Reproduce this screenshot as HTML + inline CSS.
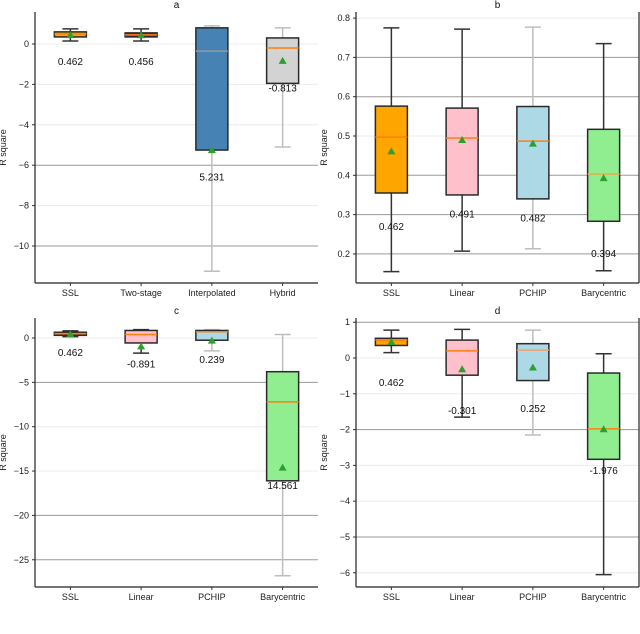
<!DOCTYPE html>
<html><head><meta charset="utf-8"><style>
html,body{margin:0;padding:0;background:#fff;}
svg{display:block;font-family:"Liberation Sans","DejaVu Sans",sans-serif;}
</style></head><body>
<svg id="fig" width="640" height="634" viewBox="0 0 640 634" xmlns="http://www.w3.org/2000/svg"></svg>
<script>
// ---- Data ----
const catsA = ["SSL","Two-stage","Interpolated","Hybrid"];
const catsB = ["SSL","Linear","PCHIP","Barycentric"];
// [whiskerLow, Q1, median, Q3, whiskerHigh]
const boxesA = [[0.15,0.35,0.5,0.6,0.75],[0.15,0.35,0.45,0.55,0.75],[-11.25,-5.25,-0.35,0.8,0.9],[-5.1,-1.95,-0.2,0.3,0.8]];
const meansA = [0.462,0.456,-5.231,-0.813];
const labelsA = ["0.462","0.456","5.231","-0.813"];
const labelPosA = [-0.9,-0.9,-6.6,-2.2];
const ticksA = [0,-2,-4,-6,-8,-10];
const boxesB = [[0.155,0.355,0.497,0.576,0.775],[0.207,0.35,0.495,0.571,0.772],[0.213,0.34,0.487,0.575,0.777],[0.157,0.283,0.403,0.517,0.735]];
const meansB = [0.462,0.491,0.482,0.394];
const labelsB = ["0.462","0.491","0.482","0.394"];
const labelPosB = [0.268,0.30,0.29,0.2];
const ticksB = [0.2,0.3,0.4,0.5,0.6,0.7,0.8];
const boxesC = [[0.15,0.3,0.5,0.65,0.8],[-1.7,-0.56,0.4,0.85,0.95],[-1.45,-0.25,0.7,0.85,0.95],[-26.8,-16.1,-7.2,-3.8,0.4]];
const meansC = [0.462,-0.891,-0.239,-14.561];
const labelsC = ["0.462","-0.891","0.239","14.561"];
const labelPosC = [-1.7,-3.0,-2.5,-16.7];
const ticksC = [0,-5,-10,-15,-20,-25];
const boxesD = [[0.15,0.35,0.5,0.55,0.78],[-1.65,-0.48,0.2,0.5,0.8],[-2.15,-0.63,0.22,0.4,0.78],[-6.05,-2.83,-1.98,-0.42,0.12]];
const meansD = [0.462,-0.301,-0.252,-1.976];
const labelsD = ["0.462","-0.301","0.252","-1.976"];
const labelPosD = [-0.7,-1.48,-1.42,-3.15];
const ticksD = [1,0,-1,-2,-3,-4,-5,-6];

const NS="http://www.w3.org/2000/svg";
const svg=document.getElementById('fig');
function mk(tag,attrs,parent){const e=document.createElementNS(NS,tag);for(const k in attrs)e.setAttribute(k,attrs[k]);(parent||svg).appendChild(e);return e;}

function panel(o){
  const g=mk('g',{});
  
  
  const y=v=>o.py0+(o.v0-v)*o.scale;
  const x=i=>o.left+(i+0.5)*(o.right-o.left)/4;
  // grid
  o.ticks.forEach(t=>{
    const dark=o.dark.includes(t);
    const ln=mk('line',{x1:o.left,x2:o.right,y1:y(t),y2:y(t),stroke:dark?'#9a9a9a':'#ececec','stroke-width':1},g);
    
    
    const tl=mk('text',{x:o.left-6,y:y(t)+3,'text-anchor':'end','font-size':9,fill:'#222'},g);
    tl.textContent=String(t).replace('-','\u2212');
    
    
    mk('line',{x1:o.left-3,x2:o.left,y1:y(t),y2:y(t),stroke:'#333'},g);
  });
  // spines
  mk('line',{x1:o.left,x2:o.left,y1:o.top,y2:o.bottom,stroke:'#222','stroke-width':1.2},g);
  mk('line',{x1:o.left,x2:o.right,y1:o.bottom,y2:o.bottom,stroke:'#222','stroke-width':1.2},g);
  if(o.rspine) mk('line',{x1:o.right,x2:o.right,y1:o.top,y2:o.bottom,stroke:'#222','stroke-width':1.2},g);
  const bw=32;
  o.boxes.forEach((b,i)=>{
    const cx=x(i);
    const wc=o.wcol[i];
    const bg=mk('g',{},g);
    
    
    mk('line',{x1:cx,x2:cx,y1:y(b[4]),y2:y(b[3]),stroke:wc,'stroke-width':1.5},bg);
    mk('line',{x1:cx,x2:cx,y1:y(b[1]),y2:y(b[0]),stroke:wc,'stroke-width':1.5},bg);
    mk('line',{x1:cx-8,x2:cx+8,y1:y(b[4]),y2:y(b[4]),stroke:wc,'stroke-width':1.5},bg);
    mk('line',{x1:cx-8,x2:cx+8,y1:y(b[0]),y2:y(b[0]),stroke:wc,'stroke-width':1.5},bg);
    mk('rect',{x:cx-bw/2,y:y(b[3]),width:bw,height:Math.max(1,y(b[1])-y(b[3])),fill:o.fill[i],stroke:'#2a2a2a','stroke-width':1.5},bg);
    mk('line',{x1:cx-bw/2,x2:cx+bw/2,y1:y(b[2]),y2:y(b[2]),stroke:o.mcol[i],'stroke-width':1.5},bg);
    const my=y(o.means[i]);
    const tri=mk('path',{d:`M${cx-4},${my+3.5} L${cx+4},${my+3.5} L${cx},${my-3.5} Z`,fill:'#2ca02c'},bg);
    
    
    const lt=mk('text',{x:cx,y:y(o.labelPos[i])+3,'text-anchor':'middle','font-size':10,fill:'#111'},bg);
    lt.textContent=o.labels[i];
    
    
    mk('line',{x1:cx,x2:cx,y1:o.bottom,y2:o.bottom+3,stroke:'#333'},g);
    const xl=mk('text',{x:cx,y:o.bottom+13,'text-anchor':'middle','font-size':9,fill:'#222'},g);
    xl.textContent=o.cats[i];
    
    
  });
  const tt=mk('text',{x:(o.left+o.right)/2,y:o.top-4,'text-anchor':'middle','font-size':10,fill:'#111'},g);
  tt.textContent=o.title;
  
  
  const yt=mk('text',{x:0,y:0,'text-anchor':'middle','font-size':9,fill:'#222',transform:`translate(${o.left-29},${(o.top+o.bottom)/2}) rotate(-90)`},g);
  yt.textContent='R square';
  
  
}
const D='#333', L='#bdbdbd', OR='#ff7f0e';
panel({title:'a',cats:catsA,boxes:boxesA,means:meansA,labels:labelsA,labelPos:labelPosA,ticks:ticksA,dark:[-6,-10],
  left:35,right:318,top:12,bottom:283,py0:44,v0:0,scale:20.2,rspine:false,
  fill:['#ffa500','#6b1a6b','#4682b4','#d3d3d3'],wcol:[D,D,L,L],mcol:[OR,OR,'#999',OR]});
panel({title:'b',cats:catsB,boxes:boxesB,means:meansB,labels:labelsB,labelPos:labelPosB,ticks:ticksB,dark:[0.2,0.3,0.4,0.6,0.7],
  left:356,right:639,top:12,bottom:283,py0:136,v0:0.5,scale:393,rspine:true,
  fill:['#ffa500','#ffc0cb','#add8e6','#90ee90'],wcol:[D,D,L,D],mcol:[OR,OR,OR,'#e0b050']});
panel({title:'c',cats:catsB,boxes:boxesC,means:meansC,labels:labelsC,labelPos:labelPosC,ticks:ticksC,dark:[-5,-20,-25],
  left:35,right:318,top:318,bottom:587,py0:338,v0:0,scale:8.87,rspine:false,
  fill:['#c0650a','#ffc0cb','#add8e6','#90ee90'],wcol:[D,D,L,L],mcol:[OR,OR,OR,OR]});
panel({title:'d',cats:catsB,boxes:boxesD,means:meansD,labels:labelsD,labelPos:labelPosD,ticks:ticksD,dark:[1,-2,-5],
  left:356,right:639,top:318,bottom:587,py0:358,v0:0,scale:35.8,rspine:true,
  fill:['#ffa500','#ffc0cb','#add8e6','#90ee90'],wcol:[D,D,L,D],mcol:[OR,OR,'#f0a070',OR]});
</script>
</body></html>
